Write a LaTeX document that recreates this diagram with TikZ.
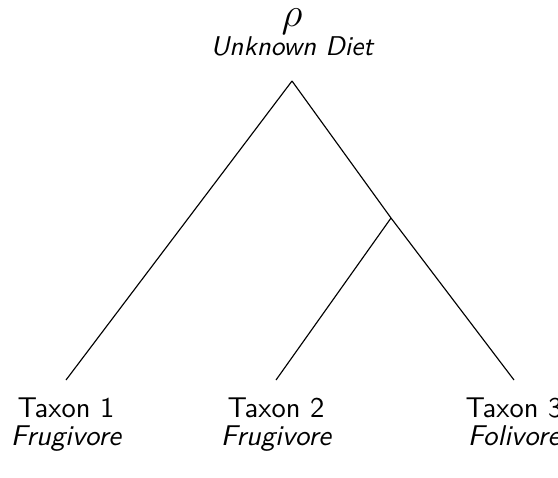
\documentclass[tikz,border=0pt]{standalone}
\usepackage{amsmath}
\usepackage{tikz}
\usetikzlibrary{positioning}
\renewcommand{\familydefault}{\sfdefault}
\tikzset{
  branch/.style={draw, line width=0.4pt},
  tip/.style={align=center, inner sep=1pt, font=\sffamily},
  diet/.style={font=\fontsize{9.5}{11}\selectfont\sffamily\itshape}
}

\begin{document}
\begin{tikzpicture}[x=0.35pt, y=-0.35pt, node distance=2pt]
  \useasboundingbox (0,0) rectangle (558,477);
  % Tree points
  \coordinate (root) at (292,81);
  \coordinate (inner) at (391,218);
  \coordinate (leaf1) at (66,380);
  \coordinate (leaf2) at (276,380);
  \coordinate (leaf3) at (514,380);

  % Labels
  \node[tip, diet, above=7.5pt of root, anchor=south] (rootlab) {Unknown Diet};
  \node[inner sep=0pt, above=-0.6pt of rootlab] (rootsym) {\Large$\rho$};
  \node[tip, below=5pt of leaf1, anchor=north] (lab1) {Taxon 1\\[-2.2pt]{\itshape Frugivore}};
  \node[tip, below=5pt of leaf2, anchor=north] (lab2) {Taxon 2\\[-2.2pt]{\itshape Frugivore}};
  \node[tip, below=5pt of leaf3, anchor=north] (lab3) {Taxon 3\\[-2.2pt]{\itshape Folivore}};

  % Branches
  \draw[branch] (root) -- (leaf1);
  \draw[branch] (root) -- (inner);
  \draw[branch] (inner) -- (leaf2);
  \draw[branch] (inner) -- (leaf3);
\end{tikzpicture}
\end{document}
